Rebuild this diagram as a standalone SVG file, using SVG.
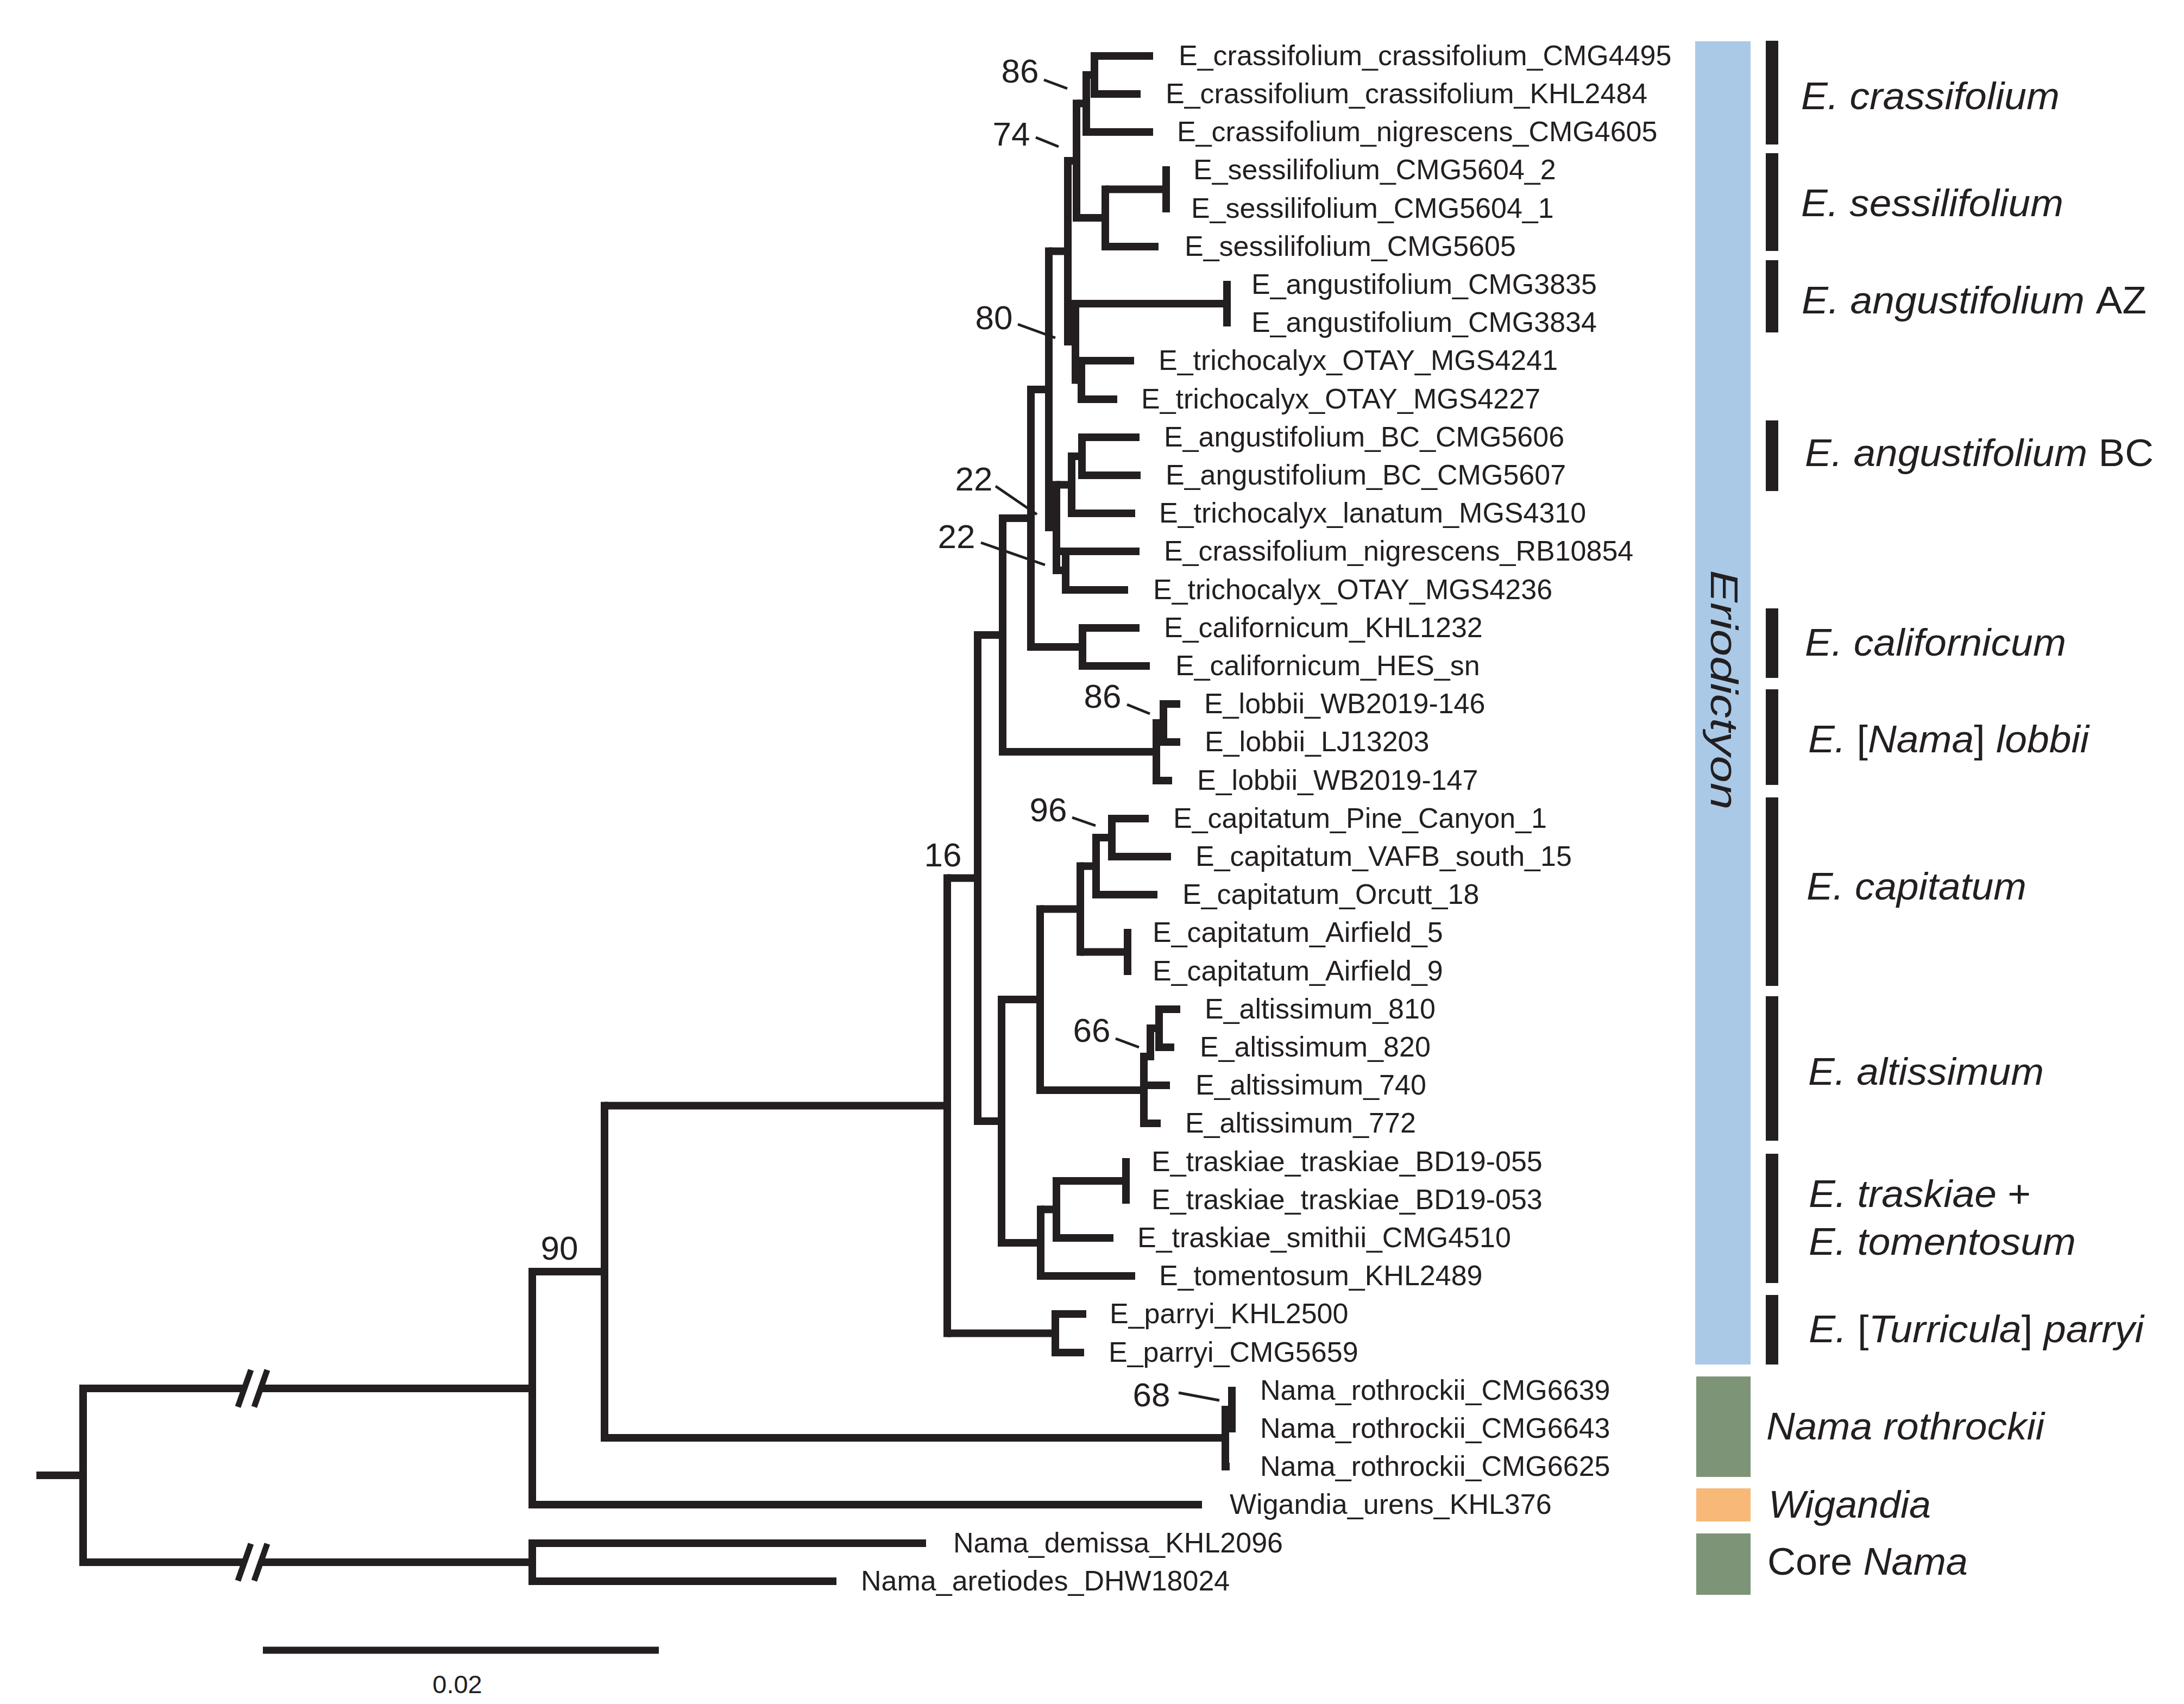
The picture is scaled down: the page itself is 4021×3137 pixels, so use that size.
<svg xmlns="http://www.w3.org/2000/svg" width="4021" height="3137" viewBox="0 0 4021 3137">
<style>
.br{fill:none;stroke:#231f20;stroke-width:14}
.v{stroke-linecap:square}
.h{stroke-linecap:butt}
.ptr{fill:none;stroke:#231f20;stroke-width:5}
text{font-family:"Liberation Sans",Arial,Helvetica,sans-serif;fill:#231f20}
.tip{font-size:52px}
.bs{font-size:62px;text-anchor:middle}
.clade{font-size:70px;font-style:italic}
.up{font-style:normal}
</style>
<rect width="4021" height="3137" fill="#ffffff"/>
<g id="connectors">
<path class="br v" d="M2015 103V173 M2000 138V243 M2147 313V384 M2035 348.5V454 M1982 190.5V401 M2259 524V594 M1991 664V735 M1980 559V699.5 M1966 296V629 M1992 805V875 M1973 840V945 M1962 1015V1086 M1945 892.5V1050 M1931 462.5V971 M1993 1156V1226 M1898 717V1191 M2142 1296V1366 M2129 1331V1437 M1846 954V1384 M2047 1507V1577 M2018 1542V1647 M2076 1717V1788 M1989 1594.5V1752.5 M2134 1858V1928 M2118 1893V1945 M2106 1945V2068 M1915 1673.5V2007 M2073 2139V2209 M1945 2174V2279 M1916 2226.5V2349 M1844 1840V2288 M1800 1169V2064 M1943 2419V2490 M1744 1616.5V2454.5 M1113 2035.5V2647 M2268 2560V2630 M2256 2595V2700 M980 2341V2770 M980 2841V2911 M153 2556V2876"/>
<path class="br h" d="M2015 103H2123 M2015 173H2100 M2000 243H2123 M2035 454H2133 M1991 664H2088 M1991 735H2057 M1992 805H2098 M1992 875H2100 M1973 945H2090 M1945 1015H2098 M1962 1086H2077 M1993 1156H2098 M1993 1226H2117 M2142 1296H2173 M2142 1366H2173 M2129 1437H2158 M2047 1507H2115 M2047 1577H2156 M2018 1647H2131 M2134 1858H2173 M2134 1928H2162 M2106 1998H2154 M2106 2068H2137 M1945 2279H2050 M1916 2349H2090 M1943 2419H2000 M1943 2490H1996 M2256 2700H2264 M980 2770H2213 M980 2841H1705 M980 2911H1540"/>
<path class="br h" d="M2000 138H2015 M1982 190.5H2000 M1982 401H2035 M2035 348.5H2147 M1966 296H1982 M1966 629H1980 M1980 559H2259 M1980 699.5H1991 M1931 462.5H1966 M1931 971H1945 M1945 892.5H1973 M1973 840H1992 M1945 1050H1962 M1898 717H1931 M1898 1191H1993 M1846 954H1898 M1846 1384H2129 M2129 1331H2142 M1800 1169H1846 M1800 2064H1844 M1844 1840H1915 M1844 2288H1916 M1915 1673.5H1989 M1915 2007H2106 M1989 1594.5H2018 M1989 1752.5H2076 M2018 1542H2047 M2106 1945H2118 M2118 1893H2134 M1916 2226.5H1945 M1945 2174H2073 M1744 1616.5H1800 M1744 2454.5H1943 M1113 2035.5H1744 M1113 2647H2256 M2256 2595H2268 M980 2341H1113 M153 2556H980 M153 2876H980 M67 2716H153"/>
<g id="breaks">
<path d="M453 2586L477 2526 M453 2906L477 2846" fill="none" stroke="#ffffff" stroke-width="22"/>
<path d="M438 2590L462 2522 M468 2590L492 2522 M438 2910L462 2842 M468 2910L492 2842" fill="none" stroke="#231f20" stroke-width="11"/>
</g>
<path class="ptr" d="M1922 147L1965 163 M1907 253L1949 270 M1874 597L1943 622 M1833 895L1909 947 M1806 999L1924 1040 M2075 1297L2117 1314 M1974 1505L2017 1520 M2054 1912L2097 1928 M2170 2564L2245 2578"/>
</g>
<g id="support">
<text class="bs" x="1878" y="152">86</text>
<text class="bs" x="1862" y="268">74</text>
<text class="bs" x="1830" y="606">80</text>
<text class="bs" x="1793" y="903">22</text>
<text class="bs" x="1761" y="1009">22</text>
<text class="bs" x="2030" y="1303">86</text>
<text class="bs" x="1930" y="1512">96</text>
<text class="bs" x="1736" y="1595">16</text>
<text class="bs" x="2010" y="1918">66</text>
<text class="bs" x="1030" y="2319">90</text>
<text class="bs" x="2120" y="2589">68</text>
</g>
<g id="tips">
<text id="t01" class="tip" x="2170" y="120">E_crassifolium_crassifolium_CMG4495</text>
<text id="t02" class="tip" x="2146" y="190">E_crassifolium_crassifolium_KHL2484</text>
<text id="t03" class="tip" x="2167" y="260">E_crassifolium_nigrescens_CMG4605</text>
<text id="t04" class="tip" x="2197" y="330">E_sessilifolium_CMG5604_2</text>
<text id="t05" class="tip" x="2193" y="401">E_sessilifolium_CMG5604_1</text>
<text id="t06" class="tip" x="2181" y="471">E_sessilifolium_CMG5605</text>
<text id="t07" class="tip" x="2304" y="541">E_angustifolium_CMG3835</text>
<text id="t08" class="tip" x="2304" y="611">E_angustifolium_CMG3834</text>
<text id="t09" class="tip" x="2133" y="681">E_trichocalyx_OTAY_MGS4241</text>
<text id="t10" class="tip" x="2101" y="752">E_trichocalyx_OTAY_MGS4227</text>
<text id="t11" class="tip" x="2143" y="822">E_angustifolium_BC_CMG5606</text>
<text id="t12" class="tip" x="2146" y="892">E_angustifolium_BC_CMG5607</text>
<text id="t13" class="tip" x="2134" y="962">E_trichocalyx_lanatum_MGS4310</text>
<text id="t14" class="tip" x="2143" y="1032">E_crassifolium_nigrescens_RB10854</text>
<text id="t15" class="tip" x="2123" y="1103">E_trichocalyx_OTAY_MGS4236</text>
<text id="t16" class="tip" x="2143" y="1173">E_californicum_KHL1232</text>
<text id="t17" class="tip" x="2164" y="1243">E_californicum_HES_sn</text>
<text id="t18" class="tip" x="2217" y="1313">E_lobbii_WB2019-146</text>
<text id="t19" class="tip" x="2218" y="1383">E_lobbii_LJ13203</text>
<text id="t20" class="tip" x="2204" y="1454">E_lobbii_WB2019-147</text>
<text id="t21" class="tip" x="2160" y="1524">E_capitatum_Pine_Canyon_1</text>
<text id="t22" class="tip" x="2201" y="1594">E_capitatum_VAFB_south_15</text>
<text id="t23" class="tip" x="2177" y="1664">E_capitatum_Orcutt_18</text>
<text id="t24" class="tip" x="2122" y="1734">E_capitatum_Airfield_5</text>
<text id="t25" class="tip" x="2122" y="1805">E_capitatum_Airfield_9</text>
<text id="t26" class="tip" x="2218" y="1875">E_altissimum_810</text>
<text id="t27" class="tip" x="2209" y="1945">E_altissimum_820</text>
<text id="t28" class="tip" x="2201" y="2015">E_altissimum_740</text>
<text id="t29" class="tip" x="2182" y="2085">E_altissimum_772</text>
<text id="t30" class="tip" x="2120" y="2156">E_traskiae_traskiae_BD19-055</text>
<text id="t31" class="tip" x="2120" y="2226">E_traskiae_traskiae_BD19-053</text>
<text id="t32" class="tip" x="2094" y="2296">E_traskiae_smithii_CMG4510</text>
<text id="t33" class="tip" x="2134" y="2366">E_tomentosum_KHL2489</text>
<text id="t34" class="tip" x="2043" y="2436">E_parryi_KHL2500</text>
<text id="t35" class="tip" x="2041" y="2507">E_parryi_CMG5659</text>
<text id="t36" class="tip" x="2320" y="2577">Nama_rothrockii_CMG6639</text>
<text id="t37" class="tip" x="2320" y="2647">Nama_rothrockii_CMG6643</text>
<text id="t38" class="tip" x="2320" y="2717">Nama_rothrockii_CMG6625</text>
<text id="t39" class="tip" x="2264" y="2787">Wigandia_urens_KHL376</text>
<text id="t40" class="tip" x="1755" y="2858">Nama_demissa_KHL2096</text>
<text id="t41" class="tip" x="1585" y="2928">Nama_aretiodes_DHW18024</text>
</g>
<g id="groups">
<rect id="eriodictyon-bar" x="3121" y="76" width="102" height="2436" fill="#a9c9e7"/>
<rect id="rothrockii-bar" x="3123" y="2534" width="100" height="185" fill="#7e9477"/>
<rect id="wigandia-bar" x="3123" y="2740" width="100" height="61" fill="#f8b878"/>
<rect id="corenama-bar" x="3123" y="2823" width="100" height="113" fill="#7e9477"/>
<text id="eriodictyon-label" class="clade" transform="translate(3150 1270) rotate(90)" text-anchor="middle" font-size="64" textLength="441" lengthAdjust="spacingAndGlyphs">Eriodictyon</text>
<g fill="#231f20">
<rect x="3251" y="75" width="23" height="191"/>
<rect x="3251" y="282" width="23" height="180"/>
<rect x="3251" y="479" width="23" height="133"/>
<rect x="3251" y="774" width="23" height="130"/>
<rect x="3251" y="1120" width="23" height="128"/>
<rect x="3251" y="1269" width="23" height="176"/>
<rect x="3251" y="1468" width="23" height="347"/>
<rect x="3251" y="1834" width="23" height="266"/>
<rect x="3251" y="2124" width="23" height="238"/>
<rect x="3251" y="2384" width="23" height="128"/>
</g>
<text class="clade" x="3316" y="201" textLength="476" lengthAdjust="spacingAndGlyphs">E. crassifolium</text>
<text class="clade" x="3316" y="398" textLength="483" lengthAdjust="spacingAndGlyphs">E. sessilifolium</text>
<text class="clade" x="3317" y="577" textLength="635" lengthAdjust="spacingAndGlyphs">E. angustifolium <tspan class="up">AZ</tspan></text>
<text class="clade" x="3323" y="858" textLength="642" lengthAdjust="spacingAndGlyphs">E. angustifolium <tspan class="up">BC</tspan></text>
<text class="clade" x="3323" y="1207" textLength="481" lengthAdjust="spacingAndGlyphs">E. californicum</text>
<text class="clade" x="3329" y="1385" textLength="517" lengthAdjust="spacingAndGlyphs">E. <tspan class="up">[</tspan>Nama<tspan class="up">]</tspan> lobbii</text>
<text class="clade" x="3326" y="1656" textLength="405" lengthAdjust="spacingAndGlyphs">E. capitatum</text>
<text class="clade" x="3329" y="1997" textLength="434" lengthAdjust="spacingAndGlyphs">E. altissimum</text>
<text class="clade" x="3330" y="2222" textLength="409" lengthAdjust="spacingAndGlyphs">E. traskiae <tspan class="up">+</tspan></text>
<text class="clade" x="3330" y="2310" textLength="492" lengthAdjust="spacingAndGlyphs">E. tomentosum</text>
<text class="clade" x="3330" y="2471" textLength="617" lengthAdjust="spacingAndGlyphs">E. <tspan class="up">[</tspan>Turricula<tspan class="up">]</tspan> parryi</text>
<text class="clade" x="3252" y="2650" textLength="512" lengthAdjust="spacingAndGlyphs">Nama rothrockii</text>
<text class="clade" x="3256" y="2794" textLength="299" lengthAdjust="spacingAndGlyphs">Wigandia</text>
<text class="clade" x="3254" y="2899" textLength="369" lengthAdjust="spacingAndGlyphs"><tspan class="up">Core</tspan> Nama</text>
</g>
<g id="scalebar">
<path d="M484 3038H1213" stroke="#231f20" stroke-width="13" fill="none"/>
<text x="842" y="3117" font-size="47" text-anchor="middle">0.02</text>
</g>
</svg>
